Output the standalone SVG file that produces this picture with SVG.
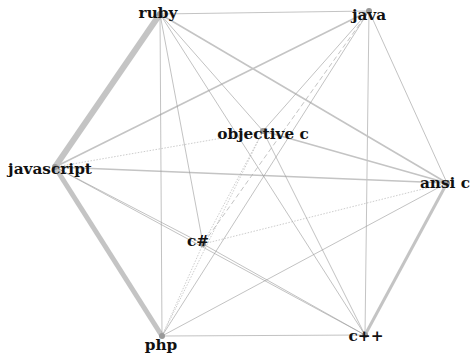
<svg xmlns="http://www.w3.org/2000/svg" width="473" height="358" viewBox="0 0 473 358">
<style>
.t{font-family:"DejaVu Serif",serif;font-weight:bold;font-size:15.3px;fill:#111;text-anchor:middle}
.e{stroke:#999;stroke-width:0.6;fill:none}
.l{stroke:#c4c4c4;fill:none}
.d{stroke:#aaa;stroke-width:0.6;stroke-dasharray:1.5,1.5;fill:none}
.dd{stroke:#aaa;stroke-width:0.7;stroke-dasharray:5,3;fill:none}
.n{fill:#999}
</style>
<rect width="473" height="358" fill="#fff"/>
<g id="edges">
<line class="l" x1="160" y1="14" x2="55" y2="167" stroke-width="6"/>
<line class="l" x1="55" y1="167" x2="162" y2="336" stroke-width="5"/>
<line class="l" x1="447" y1="183" x2="365" y2="335" stroke-width="3"/>
<line class="l" x1="160" y1="14" x2="447" y2="183" stroke-width="1.6" stroke="#b0b0b0"/>
<line class="l" x1="55" y1="167" x2="369" y2="11" stroke-width="1.6" stroke="#b8b8b8"/>
<line class="l" x1="55" y1="167" x2="447" y2="183" stroke-width="1.6" stroke="#b8b8b8"/>
<line class="l" x1="263" y1="131" x2="447" y2="183" stroke-width="1.6" stroke="#b8b8b8"/>
<line class="l" x1="160" y1="14" x2="369" y2="11" stroke-width="1.1" stroke="#c8c8c8"/>
<line class="l" x1="369" y1="11" x2="365" y2="335" stroke-width="1" stroke="#cfcfcf"/>
<line class="e" x1="160" y1="14" x2="162" y2="336"/>
<line class="e" x1="160" y1="14" x2="203" y2="244"/>
<line class="e" x1="160" y1="14" x2="263" y2="131"/>
<line class="e" x1="160" y1="14" x2="365" y2="335"/>
<line class="e" x1="369" y1="11" x2="263" y2="131"/>
<line class="dd" x1="369" y1="11" x2="203" y2="244"/>
<line class="e" x1="369" y1="11" x2="162" y2="336"/>
<line class="e" x1="369" y1="11" x2="447" y2="183"/>
<line class="d" x1="55" y1="167" x2="263" y2="131"/>
<line class="e" x1="55" y1="167" x2="203" y2="244" stroke-width="0.9"/>
<line class="e" x1="55" y1="167" x2="365" y2="335" stroke-width="0.9"/>
<line class="e" x1="203" y1="244" x2="365" y2="335" stroke-width="0.9"/>
<line class="d" x1="447" y1="183" x2="203" y2="244"/>
<line class="e" x1="447" y1="183" x2="162" y2="336"/>
<line class="e" x1="263" y1="131" x2="365" y2="335"/>
<line class="d" x1="263" y1="131" x2="203" y2="244"/>
<line class="d" x1="263" y1="131" x2="162" y2="336"/>
<line class="d" x1="203" y1="244" x2="162" y2="336"/>
<line class="e" x1="162" y1="336" x2="365" y2="335" stroke="#bbb"/>
</g>
<g id="ruby"><circle class="n" cx="160" cy="14" r="3"/><text class="t" x="158" y="18">ruby</text></g>
<g id="java"><circle class="n" cx="369" cy="11" r="3"/><text class="t" x="369" y="20">java</text></g>
<g id="objective-c"><circle class="n" cx="263" cy="131" r="3"/><text class="t" x="263" y="139">objective c</text></g>
<g id="javascript"><circle class="n" cx="55" cy="167" r="3"/><text class="t" x="50" y="174">javascript</text></g>
<g id="ansi-c"><circle class="n" cx="447" cy="183" r="3"/><text class="t" x="445" y="188">ansi c</text></g>
<g id="csharp"><circle class="n" cx="203" cy="244" r="3"/><text class="t" x="198" y="246">c#</text></g>
<g id="php"><circle class="n" cx="162" cy="336" r="3"/><text class="t" x="161" y="350">php</text></g>
<g id="cpp"><circle class="n" cx="365" cy="335" r="3"/><text class="t" x="366" y="341">c++</text></g>
</svg>
